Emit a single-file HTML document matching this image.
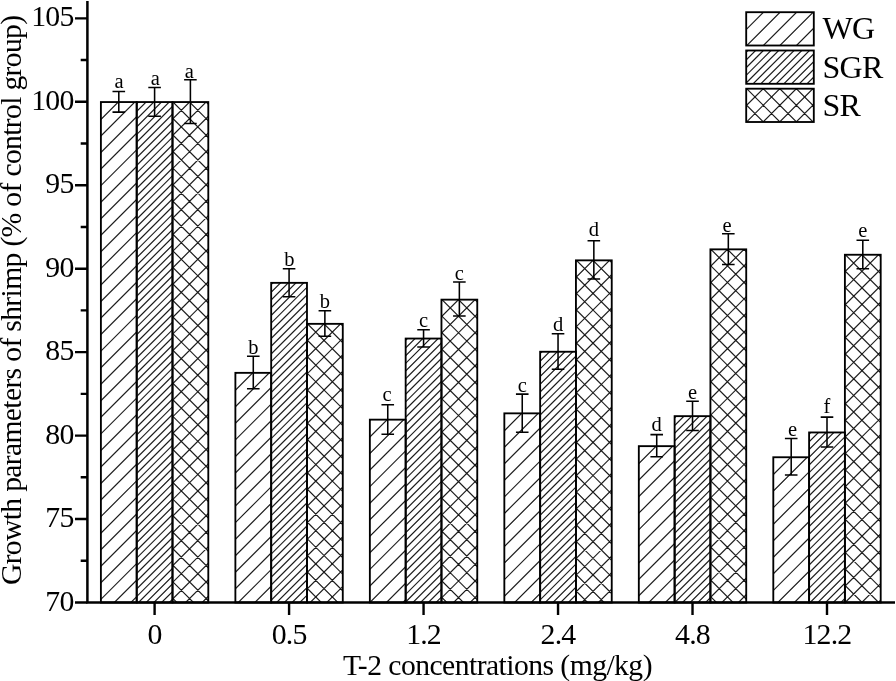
<!DOCTYPE html>
<html><head><meta charset="utf-8"><style>
html,body{margin:0;padding:0;background:#fff;width:896px;height:681px;overflow:hidden}
svg{display:block;will-change:transform}
text{font-family:"Liberation Serif",serif;fill:#000}
</style></head><body>
<svg width="896" height="681" viewBox="0 0 896 681">
<defs><clipPath id="c1"><rect x="100.90" y="102.05" width="35.80" height="500.45"/></clipPath><clipPath id="c2"><rect x="136.70" y="102.05" width="35.80" height="500.45"/></clipPath><clipPath id="c3"><rect x="172.50" y="102.05" width="35.80" height="500.45"/></clipPath><clipPath id="c4"><rect x="235.38" y="372.85" width="35.80" height="229.65"/></clipPath><clipPath id="c5"><rect x="271.18" y="282.85" width="35.80" height="319.65"/></clipPath><clipPath id="c6"><rect x="306.98" y="323.85" width="35.80" height="278.65"/></clipPath><clipPath id="c7"><rect x="369.86" y="419.65" width="35.80" height="182.85"/></clipPath><clipPath id="c8"><rect x="405.66" y="338.55" width="35.80" height="263.95"/></clipPath><clipPath id="c9"><rect x="441.46" y="299.65" width="35.80" height="302.85"/></clipPath><clipPath id="c10"><rect x="504.34" y="413.35" width="35.80" height="189.15"/></clipPath><clipPath id="c11"><rect x="540.14" y="351.75" width="35.80" height="250.75"/></clipPath><clipPath id="c12"><rect x="575.94" y="260.35" width="35.80" height="342.15"/></clipPath><clipPath id="c13"><rect x="638.82" y="446.15" width="35.80" height="156.35"/></clipPath><clipPath id="c14"><rect x="674.62" y="416.15" width="35.80" height="186.35"/></clipPath><clipPath id="c15"><rect x="710.42" y="249.35" width="35.80" height="353.15"/></clipPath><clipPath id="c16"><rect x="773.30" y="457.25" width="35.80" height="145.25"/></clipPath><clipPath id="c17"><rect x="809.10" y="432.45" width="35.80" height="170.05"/></clipPath><clipPath id="c18"><rect x="844.90" y="254.75" width="35.80" height="347.75"/></clipPath><clipPath id="c19"><rect x="746.2" y="12.2" width="67.6" height="33.3"/></clipPath><clipPath id="c20"><rect x="746.2" y="50.5" width="67.6" height="33.3"/></clipPath><clipPath id="c21"><rect x="746.2" y="88.7" width="67.6" height="33.3"/></clipPath></defs>
<rect width="896" height="681" fill="#fff"/>
<path clip-path="url(#c1)" d="M98.90 104.85L103.70 100.05M98.90 121.40L120.25 100.05M98.90 137.95L136.80 100.05M98.90 154.50L138.70 114.70M98.90 171.05L138.70 131.25M98.90 187.60L138.70 147.80M98.90 204.15L138.70 164.35M98.90 220.70L138.70 180.90M98.90 237.25L138.70 197.45M98.90 253.80L138.70 214.00M98.90 270.35L138.70 230.55M98.90 286.90L138.70 247.10M98.90 303.45L138.70 263.65M98.90 320.00L138.70 280.20M98.90 336.55L138.70 296.75M98.90 353.10L138.70 313.30M98.90 369.65L138.70 329.85M98.90 386.20L138.70 346.40M98.90 402.75L138.70 362.95M98.90 419.30L138.70 379.50M98.90 435.85L138.70 396.05M98.90 452.40L138.70 412.60M98.90 468.95L138.70 429.15M98.90 485.50L138.70 445.70M98.90 502.05L138.70 462.25M98.90 518.60L138.70 478.80M98.90 535.15L138.70 495.35M98.90 551.70L138.70 511.90M98.90 568.25L138.70 528.45M98.90 584.80L138.70 545.00M98.90 601.35L138.70 561.55M112.30 604.50L138.70 578.10M128.85 604.50L138.70 594.65" stroke="#1c1c1c" stroke-width="1.2" fill="none"/>
<rect x="100.90" y="102.05" width="35.80" height="500.45" fill="none" stroke="#000" stroke-width="1.85"/>
<path clip-path="url(#c2)" d="M134.70 105.75L140.40 100.05M134.70 113.45L148.10 100.05M134.70 121.15L155.80 100.05M134.70 128.85L163.50 100.05M134.70 136.55L171.20 100.05M134.70 144.25L174.50 104.45M134.70 151.95L174.50 112.15M134.70 159.65L174.50 119.85M134.70 167.35L174.50 127.55M134.70 175.05L174.50 135.25M134.70 182.75L174.50 142.95M134.70 190.45L174.50 150.65M134.70 198.15L174.50 158.35M134.70 205.85L174.50 166.05M134.70 213.55L174.50 173.75M134.70 221.25L174.50 181.45M134.70 228.95L174.50 189.15M134.70 236.65L174.50 196.85M134.70 244.35L174.50 204.55M134.70 252.05L174.50 212.25M134.70 259.75L174.50 219.95M134.70 267.45L174.50 227.65M134.70 275.15L174.50 235.35M134.70 282.85L174.50 243.05M134.70 290.55L174.50 250.75M134.70 298.25L174.50 258.45M134.70 305.95L174.50 266.15M134.70 313.65L174.50 273.85M134.70 321.35L174.50 281.55M134.70 329.05L174.50 289.25M134.70 336.75L174.50 296.95M134.70 344.45L174.50 304.65M134.70 352.15L174.50 312.35M134.70 359.85L174.50 320.05M134.70 367.55L174.50 327.75M134.70 375.25L174.50 335.45M134.70 382.95L174.50 343.15M134.70 390.65L174.50 350.85M134.70 398.35L174.50 358.55M134.70 406.05L174.50 366.25M134.70 413.75L174.50 373.95M134.70 421.45L174.50 381.65M134.70 429.15L174.50 389.35M134.70 436.85L174.50 397.05M134.70 444.55L174.50 404.75M134.70 452.25L174.50 412.45M134.70 459.95L174.50 420.15M134.70 467.65L174.50 427.85M134.70 475.35L174.50 435.55M134.70 483.05L174.50 443.25M134.70 490.75L174.50 450.95M134.70 498.45L174.50 458.65M134.70 506.15L174.50 466.35M134.70 513.85L174.50 474.05M134.70 521.55L174.50 481.75M134.70 529.25L174.50 489.45M134.70 536.95L174.50 497.15M134.70 544.65L174.50 504.85M134.70 552.35L174.50 512.55M134.70 560.05L174.50 520.25M134.70 567.75L174.50 527.95M134.70 575.45L174.50 535.65M134.70 583.15L174.50 543.35M134.70 590.85L174.50 551.05M134.70 598.55L174.50 558.75M136.45 604.50L174.50 566.45M144.15 604.50L174.50 574.15M151.85 604.50L174.50 581.85M159.55 604.50L174.50 589.55M167.25 604.50L174.50 597.25" stroke="#1c1c1c" stroke-width="1.2" fill="none"/>
<rect x="136.70" y="102.05" width="35.80" height="500.45" fill="none" stroke="#000" stroke-width="1.85"/>
<path clip-path="url(#c3)" d="M170.50 104.55L175.00 100.05M170.50 121.10L191.55 100.05M170.50 137.65L208.10 100.05M170.50 154.20L210.30 114.40M170.50 170.75L210.30 130.95M170.50 187.30L210.30 147.50M170.50 203.85L210.30 164.05M170.50 220.40L210.30 180.60M170.50 236.95L210.30 197.15M170.50 253.50L210.30 213.70M170.50 270.05L210.30 230.25M170.50 286.60L210.30 246.80M170.50 303.15L210.30 263.35M170.50 319.70L210.30 279.90M170.50 336.25L210.30 296.45M170.50 352.80L210.30 313.00M170.50 369.35L210.30 329.55M170.50 385.90L210.30 346.10M170.50 402.45L210.30 362.65M170.50 419.00L210.30 379.20M170.50 435.55L210.30 395.75M170.50 452.10L210.30 412.30M170.50 468.65L210.30 428.85M170.50 485.20L210.30 445.40M170.50 501.75L210.30 461.95M170.50 518.30L210.30 478.50M170.50 534.85L210.30 495.05M170.50 551.40L210.30 511.60M170.50 567.95L210.30 528.15M170.50 584.50L210.30 544.70M170.50 601.05L210.30 561.25M183.60 604.50L210.30 577.80M200.15 604.50L210.30 594.35M170.50 596.05L178.95 604.50M170.50 579.50L195.50 604.50M170.50 562.95L210.30 602.75M170.50 546.40L210.30 586.20M170.50 529.85L210.30 569.65M170.50 513.30L210.30 553.10M170.50 496.75L210.30 536.55M170.50 480.20L210.30 520.00M170.50 463.65L210.30 503.45M170.50 447.10L210.30 486.90M170.50 430.55L210.30 470.35M170.50 414.00L210.30 453.80M170.50 397.45L210.30 437.25M170.50 380.90L210.30 420.70M170.50 364.35L210.30 404.15M170.50 347.80L210.30 387.60M170.50 331.25L210.30 371.05M170.50 314.70L210.30 354.50M170.50 298.15L210.30 337.95M170.50 281.60L210.30 321.40M170.50 265.05L210.30 304.85M170.50 248.50L210.30 288.30M170.50 231.95L210.30 271.75M170.50 215.40L210.30 255.20M170.50 198.85L210.30 238.65M170.50 182.30L210.30 222.10M170.50 165.75L210.30 205.55M170.50 149.20L210.30 189.00M170.50 132.65L210.30 172.45M170.50 116.10L210.30 155.90M171.00 100.05L210.30 139.35M187.55 100.05L210.30 122.80M204.10 100.05L210.30 106.25" stroke="#1c1c1c" stroke-width="1.2" fill="none"/>
<rect x="172.50" y="102.05" width="35.80" height="500.45" fill="none" stroke="#000" stroke-width="1.85"/>
<path clip-path="url(#c4)" d="M233.38 375.65L238.18 370.85M233.38 392.20L254.73 370.85M233.38 408.75L271.28 370.85M233.38 425.30L273.18 385.50M233.38 441.85L273.18 402.05M233.38 458.40L273.18 418.60M233.38 474.95L273.18 435.15M233.38 491.50L273.18 451.70M233.38 508.05L273.18 468.25M233.38 524.60L273.18 484.80M233.38 541.15L273.18 501.35M233.38 557.70L273.18 517.90M233.38 574.25L273.18 534.45M233.38 590.80L273.18 551.00M236.23 604.50L273.18 567.55M252.78 604.50L273.18 584.10" stroke="#1c1c1c" stroke-width="1.2" fill="none"/>
<rect x="235.38" y="372.85" width="35.80" height="229.65" fill="none" stroke="#000" stroke-width="1.85"/>
<path clip-path="url(#c5)" d="M269.18 286.55L274.88 280.85M269.18 294.25L282.58 280.85M269.18 301.95L290.28 280.85M269.18 309.65L297.98 280.85M269.18 317.35L305.68 280.85M269.18 325.05L308.98 285.25M269.18 332.75L308.98 292.95M269.18 340.45L308.98 300.65M269.18 348.15L308.98 308.35M269.18 355.85L308.98 316.05M269.18 363.55L308.98 323.75M269.18 371.25L308.98 331.45M269.18 378.95L308.98 339.15M269.18 386.65L308.98 346.85M269.18 394.35L308.98 354.55M269.18 402.05L308.98 362.25M269.18 409.75L308.98 369.95M269.18 417.45L308.98 377.65M269.18 425.15L308.98 385.35M269.18 432.85L308.98 393.05M269.18 440.55L308.98 400.75M269.18 448.25L308.98 408.45M269.18 455.95L308.98 416.15M269.18 463.65L308.98 423.85M269.18 471.35L308.98 431.55M269.18 479.05L308.98 439.25M269.18 486.75L308.98 446.95M269.18 494.45L308.98 454.65M269.18 502.15L308.98 462.35M269.18 509.85L308.98 470.05M269.18 517.55L308.98 477.75M269.18 525.25L308.98 485.45M269.18 532.95L308.98 493.15M269.18 540.65L308.98 500.85M269.18 548.35L308.98 508.55M269.18 556.05L308.98 516.25M269.18 563.75L308.98 523.95M269.18 571.45L308.98 531.65M269.18 579.15L308.98 539.35M269.18 586.85L308.98 547.05M269.18 594.55L308.98 554.75M269.18 602.25L308.98 562.45M274.63 604.50L308.98 570.15M282.33 604.50L308.98 577.85M290.03 604.50L308.98 585.55M297.73 604.50L308.98 593.25" stroke="#1c1c1c" stroke-width="1.2" fill="none"/>
<rect x="271.18" y="282.85" width="35.80" height="319.65" fill="none" stroke="#000" stroke-width="1.85"/>
<path clip-path="url(#c6)" d="M304.98 326.35L309.48 321.85M304.98 342.90L326.03 321.85M304.98 359.45L342.58 321.85M304.98 376.00L344.78 336.20M304.98 392.55L344.78 352.75M304.98 409.10L344.78 369.30M304.98 425.65L344.78 385.85M304.98 442.20L344.78 402.40M304.98 458.75L344.78 418.95M304.98 475.30L344.78 435.50M304.98 491.85L344.78 452.05M304.98 508.40L344.78 468.60M304.98 524.95L344.78 485.15M304.98 541.50L344.78 501.70M304.98 558.05L344.78 518.25M304.98 574.60L344.78 534.80M304.98 591.15L344.78 551.35M308.18 604.50L344.78 567.90M324.73 604.50L344.78 584.45M304.98 602.70L306.78 604.50M304.98 586.15L323.33 604.50M304.98 569.60L339.88 604.50M304.98 553.05L344.78 592.85M304.98 536.50L344.78 576.30M304.98 519.95L344.78 559.75M304.98 503.40L344.78 543.20M304.98 486.85L344.78 526.65M304.98 470.30L344.78 510.10M304.98 453.75L344.78 493.55M304.98 437.20L344.78 477.00M304.98 420.65L344.78 460.45M304.98 404.10L344.78 443.90M304.98 387.55L344.78 427.35M304.98 371.00L344.78 410.80M304.98 354.45L344.78 394.25M304.98 337.90L344.78 377.70M305.48 321.85L344.78 361.15M322.03 321.85L344.78 344.60M338.58 321.85L344.78 328.05" stroke="#1c1c1c" stroke-width="1.2" fill="none"/>
<rect x="306.98" y="323.85" width="35.80" height="278.65" fill="none" stroke="#000" stroke-width="1.85"/>
<path clip-path="url(#c7)" d="M367.86 422.45L372.66 417.65M367.86 439.00L389.21 417.65M367.86 455.55L405.76 417.65M367.86 472.10L407.66 432.30M367.86 488.65L407.66 448.85M367.86 505.20L407.66 465.40M367.86 521.75L407.66 481.95M367.86 538.30L407.66 498.50M367.86 554.85L407.66 515.05M367.86 571.40L407.66 531.60M367.86 587.95L407.66 548.15M367.86 604.50L407.66 564.70M384.41 604.50L407.66 581.25M400.96 604.50L407.66 597.80" stroke="#1c1c1c" stroke-width="1.2" fill="none"/>
<rect x="369.86" y="419.65" width="35.80" height="182.85" fill="none" stroke="#000" stroke-width="1.85"/>
<path clip-path="url(#c8)" d="M403.66 342.25L409.36 336.55M403.66 349.95L417.06 336.55M403.66 357.65L424.76 336.55M403.66 365.35L432.46 336.55M403.66 373.05L440.16 336.55M403.66 380.75L443.46 340.95M403.66 388.45L443.46 348.65M403.66 396.15L443.46 356.35M403.66 403.85L443.46 364.05M403.66 411.55L443.46 371.75M403.66 419.25L443.46 379.45M403.66 426.95L443.46 387.15M403.66 434.65L443.46 394.85M403.66 442.35L443.46 402.55M403.66 450.05L443.46 410.25M403.66 457.75L443.46 417.95M403.66 465.45L443.46 425.65M403.66 473.15L443.46 433.35M403.66 480.85L443.46 441.05M403.66 488.55L443.46 448.75M403.66 496.25L443.46 456.45M403.66 503.95L443.46 464.15M403.66 511.65L443.46 471.85M403.66 519.35L443.46 479.55M403.66 527.05L443.46 487.25M403.66 534.75L443.46 494.95M403.66 542.45L443.46 502.65M403.66 550.15L443.46 510.35M403.66 557.85L443.46 518.05M403.66 565.55L443.46 525.75M403.66 573.25L443.46 533.45M403.66 580.95L443.46 541.15M403.66 588.65L443.46 548.85M403.66 596.35L443.46 556.55M403.66 604.05L443.46 564.25M410.91 604.50L443.46 571.95M418.61 604.50L443.46 579.65M426.31 604.50L443.46 587.35M434.01 604.50L443.46 595.05" stroke="#1c1c1c" stroke-width="1.2" fill="none"/>
<rect x="405.66" y="338.55" width="35.80" height="263.95" fill="none" stroke="#000" stroke-width="1.85"/>
<path clip-path="url(#c9)" d="M439.46 302.15L443.96 297.65M439.46 318.70L460.51 297.65M439.46 335.25L477.06 297.65M439.46 351.80L479.26 312.00M439.46 368.35L479.26 328.55M439.46 384.90L479.26 345.10M439.46 401.45L479.26 361.65M439.46 418.00L479.26 378.20M439.46 434.55L479.26 394.75M439.46 451.10L479.26 411.30M439.46 467.65L479.26 427.85M439.46 484.20L479.26 444.40M439.46 500.75L479.26 460.95M439.46 517.30L479.26 477.50M439.46 533.85L479.26 494.05M439.46 550.40L479.26 510.60M439.46 566.95L479.26 527.15M439.46 583.50L479.26 543.70M439.46 600.05L479.26 560.25M451.56 604.50L479.26 576.80M468.11 604.50L479.26 593.35M439.46 595.05L448.91 604.50M439.46 578.50L465.46 604.50M439.46 561.95L479.26 601.75M439.46 545.40L479.26 585.20M439.46 528.85L479.26 568.65M439.46 512.30L479.26 552.10M439.46 495.75L479.26 535.55M439.46 479.20L479.26 519.00M439.46 462.65L479.26 502.45M439.46 446.10L479.26 485.90M439.46 429.55L479.26 469.35M439.46 413.00L479.26 452.80M439.46 396.45L479.26 436.25M439.46 379.90L479.26 419.70M439.46 363.35L479.26 403.15M439.46 346.80L479.26 386.60M439.46 330.25L479.26 370.05M439.46 313.70L479.26 353.50M439.96 297.65L479.26 336.95M456.51 297.65L479.26 320.40M473.06 297.65L479.26 303.85" stroke="#1c1c1c" stroke-width="1.2" fill="none"/>
<rect x="441.46" y="299.65" width="35.80" height="302.85" fill="none" stroke="#000" stroke-width="1.85"/>
<path clip-path="url(#c10)" d="M502.34 416.15L507.14 411.35M502.34 432.70L523.69 411.35M502.34 449.25L540.24 411.35M502.34 465.80L542.14 426.00M502.34 482.35L542.14 442.55M502.34 498.90L542.14 459.10M502.34 515.45L542.14 475.65M502.34 532.00L542.14 492.20M502.34 548.55L542.14 508.75M502.34 565.10L542.14 525.30M502.34 581.65L542.14 541.85M502.34 598.20L542.14 558.40M512.59 604.50L542.14 574.95M529.14 604.50L542.14 591.50" stroke="#1c1c1c" stroke-width="1.2" fill="none"/>
<rect x="504.34" y="413.35" width="35.80" height="189.15" fill="none" stroke="#000" stroke-width="1.85"/>
<path clip-path="url(#c11)" d="M538.14 355.45L543.84 349.75M538.14 363.15L551.54 349.75M538.14 370.85L559.24 349.75M538.14 378.55L566.94 349.75M538.14 386.25L574.64 349.75M538.14 393.95L577.94 354.15M538.14 401.65L577.94 361.85M538.14 409.35L577.94 369.55M538.14 417.05L577.94 377.25M538.14 424.75L577.94 384.95M538.14 432.45L577.94 392.65M538.14 440.15L577.94 400.35M538.14 447.85L577.94 408.05M538.14 455.55L577.94 415.75M538.14 463.25L577.94 423.45M538.14 470.95L577.94 431.15M538.14 478.65L577.94 438.85M538.14 486.35L577.94 446.55M538.14 494.05L577.94 454.25M538.14 501.75L577.94 461.95M538.14 509.45L577.94 469.65M538.14 517.15L577.94 477.35M538.14 524.85L577.94 485.05M538.14 532.55L577.94 492.75M538.14 540.25L577.94 500.45M538.14 547.95L577.94 508.15M538.14 555.65L577.94 515.85M538.14 563.35L577.94 523.55M538.14 571.05L577.94 531.25M538.14 578.75L577.94 538.95M538.14 586.45L577.94 546.65M538.14 594.15L577.94 554.35M538.14 601.85L577.94 562.05M543.19 604.50L577.94 569.75M550.89 604.50L577.94 577.45M558.59 604.50L577.94 585.15M566.29 604.50L577.94 592.85" stroke="#1c1c1c" stroke-width="1.2" fill="none"/>
<rect x="540.14" y="351.75" width="35.80" height="250.75" fill="none" stroke="#000" stroke-width="1.85"/>
<path clip-path="url(#c12)" d="M573.94 262.85L578.44 258.35M573.94 279.40L594.99 258.35M573.94 295.95L611.54 258.35M573.94 312.50L613.74 272.70M573.94 329.05L613.74 289.25M573.94 345.60L613.74 305.80M573.94 362.15L613.74 322.35M573.94 378.70L613.74 338.90M573.94 395.25L613.74 355.45M573.94 411.80L613.74 372.00M573.94 428.35L613.74 388.55M573.94 444.90L613.74 405.10M573.94 461.45L613.74 421.65M573.94 478.00L613.74 438.20M573.94 494.55L613.74 454.75M573.94 511.10L613.74 471.30M573.94 527.65L613.74 487.85M573.94 544.20L613.74 504.40M573.94 560.75L613.74 520.95M573.94 577.30L613.74 537.50M573.94 593.85L613.74 554.05M579.84 604.50L613.74 570.60M596.39 604.50L613.74 587.15M573.94 588.85L589.59 604.50M573.94 572.30L606.14 604.50M573.94 555.75L613.74 595.55M573.94 539.20L613.74 579.00M573.94 522.65L613.74 562.45M573.94 506.10L613.74 545.90M573.94 489.55L613.74 529.35M573.94 473.00L613.74 512.80M573.94 456.45L613.74 496.25M573.94 439.90L613.74 479.70M573.94 423.35L613.74 463.15M573.94 406.80L613.74 446.60M573.94 390.25L613.74 430.05M573.94 373.70L613.74 413.50M573.94 357.15L613.74 396.95M573.94 340.60L613.74 380.40M573.94 324.05L613.74 363.85M573.94 307.50L613.74 347.30M573.94 290.95L613.74 330.75M573.94 274.40L613.74 314.20M574.44 258.35L613.74 297.65M590.99 258.35L613.74 281.10M607.54 258.35L613.74 264.55" stroke="#1c1c1c" stroke-width="1.2" fill="none"/>
<rect x="575.94" y="260.35" width="35.80" height="342.15" fill="none" stroke="#000" stroke-width="1.85"/>
<path clip-path="url(#c13)" d="M636.82 448.95L641.62 444.15M636.82 465.50L658.17 444.15M636.82 482.05L674.72 444.15M636.82 498.60L676.62 458.80M636.82 515.15L676.62 475.35M636.82 531.70L676.62 491.90M636.82 548.25L676.62 508.45M636.82 564.80L676.62 525.00M636.82 581.35L676.62 541.55M636.82 597.90L676.62 558.10M646.77 604.50L676.62 574.65M663.32 604.50L676.62 591.20" stroke="#1c1c1c" stroke-width="1.2" fill="none"/>
<rect x="638.82" y="446.15" width="35.80" height="156.35" fill="none" stroke="#000" stroke-width="1.85"/>
<path clip-path="url(#c14)" d="M672.62 419.85L678.32 414.15M672.62 427.55L686.02 414.15M672.62 435.25L693.72 414.15M672.62 442.95L701.42 414.15M672.62 450.65L709.12 414.15M672.62 458.35L712.42 418.55M672.62 466.05L712.42 426.25M672.62 473.75L712.42 433.95M672.62 481.45L712.42 441.65M672.62 489.15L712.42 449.35M672.62 496.85L712.42 457.05M672.62 504.55L712.42 464.75M672.62 512.25L712.42 472.45M672.62 519.95L712.42 480.15M672.62 527.65L712.42 487.85M672.62 535.35L712.42 495.55M672.62 543.05L712.42 503.25M672.62 550.75L712.42 510.95M672.62 558.45L712.42 518.65M672.62 566.15L712.42 526.35M672.62 573.85L712.42 534.05M672.62 581.55L712.42 541.75M672.62 589.25L712.42 549.45M672.62 596.95L712.42 557.15M672.77 604.50L712.42 564.85M680.47 604.50L712.42 572.55M688.17 604.50L712.42 580.25M695.87 604.50L712.42 587.95M703.57 604.50L712.42 595.65" stroke="#1c1c1c" stroke-width="1.2" fill="none"/>
<rect x="674.62" y="416.15" width="35.80" height="186.35" fill="none" stroke="#000" stroke-width="1.85"/>
<path clip-path="url(#c15)" d="M708.42 251.85L712.92 247.35M708.42 268.40L729.47 247.35M708.42 284.95L746.02 247.35M708.42 301.50L748.22 261.70M708.42 318.05L748.22 278.25M708.42 334.60L748.22 294.80M708.42 351.15L748.22 311.35M708.42 367.70L748.22 327.90M708.42 384.25L748.22 344.45M708.42 400.80L748.22 361.00M708.42 417.35L748.22 377.55M708.42 433.90L748.22 394.10M708.42 450.45L748.22 410.65M708.42 467.00L748.22 427.20M708.42 483.55L748.22 443.75M708.42 500.10L748.22 460.30M708.42 516.65L748.22 476.85M708.42 533.20L748.22 493.40M708.42 549.75L748.22 509.95M708.42 566.30L748.22 526.50M708.42 582.85L748.22 543.05M708.42 599.40L748.22 559.60M719.87 604.50L748.22 576.15M736.42 604.50L748.22 592.70M708.42 594.40L718.52 604.50M708.42 577.85L735.07 604.50M708.42 561.30L748.22 601.10M708.42 544.75L748.22 584.55M708.42 528.20L748.22 568.00M708.42 511.65L748.22 551.45M708.42 495.10L748.22 534.90M708.42 478.55L748.22 518.35M708.42 462.00L748.22 501.80M708.42 445.45L748.22 485.25M708.42 428.90L748.22 468.70M708.42 412.35L748.22 452.15M708.42 395.80L748.22 435.60M708.42 379.25L748.22 419.05M708.42 362.70L748.22 402.50M708.42 346.15L748.22 385.95M708.42 329.60L748.22 369.40M708.42 313.05L748.22 352.85M708.42 296.50L748.22 336.30M708.42 279.95L748.22 319.75M708.42 263.40L748.22 303.20M708.92 247.35L748.22 286.65M725.47 247.35L748.22 270.10M742.02 247.35L748.22 253.55" stroke="#1c1c1c" stroke-width="1.2" fill="none"/>
<rect x="710.42" y="249.35" width="35.80" height="353.15" fill="none" stroke="#000" stroke-width="1.85"/>
<path clip-path="url(#c16)" d="M771.30 460.05L776.10 455.25M771.30 476.60L792.65 455.25M771.30 493.15L809.20 455.25M771.30 509.70L811.10 469.90M771.30 526.25L811.10 486.45M771.30 542.80L811.10 503.00M771.30 559.35L811.10 519.55M771.30 575.90L811.10 536.10M771.30 592.45L811.10 552.65M775.80 604.50L811.10 569.20M792.35 604.50L811.10 585.75" stroke="#1c1c1c" stroke-width="1.2" fill="none"/>
<rect x="773.30" y="457.25" width="35.80" height="145.25" fill="none" stroke="#000" stroke-width="1.85"/>
<path clip-path="url(#c17)" d="M807.10 436.15L812.80 430.45M807.10 443.85L820.50 430.45M807.10 451.55L828.20 430.45M807.10 459.25L835.90 430.45M807.10 466.95L843.60 430.45M807.10 474.65L846.90 434.85M807.10 482.35L846.90 442.55M807.10 490.05L846.90 450.25M807.10 497.75L846.90 457.95M807.10 505.45L846.90 465.65M807.10 513.15L846.90 473.35M807.10 520.85L846.90 481.05M807.10 528.55L846.90 488.75M807.10 536.25L846.90 496.45M807.10 543.95L846.90 504.15M807.10 551.65L846.90 511.85M807.10 559.35L846.90 519.55M807.10 567.05L846.90 527.25M807.10 574.75L846.90 534.95M807.10 582.45L846.90 542.65M807.10 590.15L846.90 550.35M807.10 597.85L846.90 558.05M808.15 604.50L846.90 565.75M815.85 604.50L846.90 573.45M823.55 604.50L846.90 581.15M831.25 604.50L846.90 588.85M838.95 604.50L846.90 596.55" stroke="#1c1c1c" stroke-width="1.2" fill="none"/>
<rect x="809.10" y="432.45" width="35.80" height="170.05" fill="none" stroke="#000" stroke-width="1.85"/>
<path clip-path="url(#c18)" d="M842.90 257.25L847.40 252.75M842.90 273.80L863.95 252.75M842.90 290.35L880.50 252.75M842.90 306.90L882.70 267.10M842.90 323.45L882.70 283.65M842.90 340.00L882.70 300.20M842.90 356.55L882.70 316.75M842.90 373.10L882.70 333.30M842.90 389.65L882.70 349.85M842.90 406.20L882.70 366.40M842.90 422.75L882.70 382.95M842.90 439.30L882.70 399.50M842.90 455.85L882.70 416.05M842.90 472.40L882.70 432.60M842.90 488.95L882.70 449.15M842.90 505.50L882.70 465.70M842.90 522.05L882.70 482.25M842.90 538.60L882.70 498.80M842.90 555.15L882.70 515.35M842.90 571.70L882.70 531.90M842.90 588.25L882.70 548.45M843.20 604.50L882.70 565.00M859.75 604.50L882.70 581.55M876.30 604.50L882.70 598.10M842.90 599.80L847.60 604.50M842.90 583.25L864.15 604.50M842.90 566.70L880.70 604.50M842.90 550.15L882.70 589.95M842.90 533.60L882.70 573.40M842.90 517.05L882.70 556.85M842.90 500.50L882.70 540.30M842.90 483.95L882.70 523.75M842.90 467.40L882.70 507.20M842.90 450.85L882.70 490.65M842.90 434.30L882.70 474.10M842.90 417.75L882.70 457.55M842.90 401.20L882.70 441.00M842.90 384.65L882.70 424.45M842.90 368.10L882.70 407.90M842.90 351.55L882.70 391.35M842.90 335.00L882.70 374.80M842.90 318.45L882.70 358.25M842.90 301.90L882.70 341.70M842.90 285.35L882.70 325.15M842.90 268.80L882.70 308.60M843.40 252.75L882.70 292.05M859.95 252.75L882.70 275.50M876.50 252.75L882.70 258.95" stroke="#1c1c1c" stroke-width="1.2" fill="none"/>
<rect x="844.90" y="254.75" width="35.80" height="347.75" fill="none" stroke="#000" stroke-width="1.85"/>
<path d="M118.80 91.40V112.10M112.50 91.40H125.10M112.50 112.10H125.10" stroke="#000" stroke-width="1.55" fill="none"/>
<text x="118.95" y="88.10" font-size="20.5" text-anchor="middle">a</text>
<path d="M154.60 87.40V116.20M148.30 87.40H160.90M148.30 116.20H160.90" stroke="#000" stroke-width="1.55" fill="none"/>
<text x="155.20" y="84.80" font-size="20.5" text-anchor="middle">a</text>
<path d="M190.40 79.70V123.50M184.10 79.70H196.70M184.10 123.50H196.70" stroke="#000" stroke-width="1.55" fill="none"/>
<text x="189.30" y="77.50" font-size="20.5" text-anchor="middle">a</text>
<path d="M253.28 356.30V388.80M246.98 356.30H259.58M246.98 388.80H259.58" stroke="#000" stroke-width="1.55" fill="none"/>
<text x="253.28" y="353.50" font-size="20.5" text-anchor="middle">b</text>
<path d="M289.08 268.80V296.80M282.78 268.80H295.38M282.78 296.80H295.38" stroke="#000" stroke-width="1.55" fill="none"/>
<text x="289.33" y="266.00" font-size="20.5" text-anchor="middle">b</text>
<path d="M324.88 310.70V336.30M318.58 310.70H331.18M318.58 336.30H331.18" stroke="#000" stroke-width="1.55" fill="none"/>
<text x="324.88" y="308.20" font-size="20.5" text-anchor="middle">b</text>
<path d="M387.76 404.80V434.20M381.46 404.80H394.06M381.46 434.20H394.06" stroke="#000" stroke-width="1.55" fill="none"/>
<text x="387.06" y="400.70" font-size="20.5" text-anchor="middle">c</text>
<path d="M423.56 329.70V347.00M417.26 329.70H429.86M417.26 347.00H429.86" stroke="#000" stroke-width="1.55" fill="none"/>
<text x="423.56" y="327.20" font-size="20.5" text-anchor="middle">c</text>
<path d="M459.36 282.00V316.00M453.06 282.00H465.66M453.06 316.00H465.66" stroke="#000" stroke-width="1.55" fill="none"/>
<text x="459.36" y="279.60" font-size="20.5" text-anchor="middle">c</text>
<path d="M522.24 394.10V432.30M515.94 394.10H528.54M515.94 432.30H528.54" stroke="#000" stroke-width="1.55" fill="none"/>
<text x="522.24" y="391.60" font-size="20.5" text-anchor="middle">c</text>
<path d="M558.04 333.80V369.30M551.74 333.80H564.34M551.74 369.30H564.34" stroke="#000" stroke-width="1.55" fill="none"/>
<text x="558.04" y="330.80" font-size="20.5" text-anchor="middle">d</text>
<path d="M593.84 240.70V279.00M587.54 240.70H600.14M587.54 279.00H600.14" stroke="#000" stroke-width="1.55" fill="none"/>
<text x="593.84" y="236.20" font-size="20.5" text-anchor="middle">d</text>
<path d="M656.72 434.60V456.80M650.42 434.60H663.02M650.42 456.80H663.02" stroke="#000" stroke-width="1.55" fill="none"/>
<text x="656.72" y="431.00" font-size="20.5" text-anchor="middle">d</text>
<path d="M692.52 401.20V430.50M686.22 401.20H698.82M686.22 430.50H698.82" stroke="#000" stroke-width="1.55" fill="none"/>
<text x="692.52" y="399.30" font-size="20.5" text-anchor="middle">e</text>
<path d="M728.32 233.80V264.50M722.02 233.80H734.62M722.02 264.50H734.62" stroke="#000" stroke-width="1.55" fill="none"/>
<text x="727.12" y="232.30" font-size="20.5" text-anchor="middle">e</text>
<path d="M791.20 438.50V475.00M784.90 438.50H797.50M784.90 475.00H797.50" stroke="#000" stroke-width="1.55" fill="none"/>
<text x="792.60" y="435.60" font-size="20.5" text-anchor="middle">e</text>
<path d="M827.00 417.10V447.00M820.70 417.10H833.30M820.70 447.00H833.30" stroke="#000" stroke-width="1.55" fill="none"/>
<text x="827.00" y="413.00" font-size="20.5" text-anchor="middle">f</text>
<path d="M862.80 240.20V268.80M856.50 240.20H869.10M856.50 268.80H869.10" stroke="#000" stroke-width="1.55" fill="none"/>
<text x="862.80" y="237.20" font-size="20.5" text-anchor="middle">e</text>
<path d="M87.4 1V603.7M86.2 602.5H895" stroke="#000" stroke-width="2.5" fill="none"/>
<text x="73.5" y="610.50" font-size="29.8" text-anchor="end" letter-spacing="-0.8">70</text>
<text x="73.5" y="527.05" font-size="29.8" text-anchor="end" letter-spacing="-0.8">75</text>
<text x="73.5" y="443.60" font-size="29.8" text-anchor="end" letter-spacing="-0.8">80</text>
<text x="73.5" y="360.15" font-size="29.8" text-anchor="end" letter-spacing="-0.8">85</text>
<text x="73.5" y="276.70" font-size="29.8" text-anchor="end" letter-spacing="-0.8">90</text>
<text x="73.5" y="193.25" font-size="29.8" text-anchor="end" letter-spacing="-0.8">95</text>
<text x="73.5" y="109.80" font-size="29.8" text-anchor="end" letter-spacing="-0.8">100</text>
<text x="73.5" y="26.35" font-size="29.8" text-anchor="end" letter-spacing="-0.8">105</text>
<path d="M75 602.50H87.4M75 519.05H87.4M75 435.60H87.4M75 352.15H87.4M75 268.70H87.4M75 185.25H87.4M75 101.80H87.4M75 18.35H87.4M80.7 560.77H87.4M80.7 477.32H87.4M80.7 393.88H87.4M80.7 310.42H87.4M80.7 226.97H87.4M80.7 143.52H87.4M80.7 60.07H87.4M154.60 602.5V615M289.08 602.5V615M423.56 602.5V615M558.04 602.5V615M692.52 602.5V615M827.00 602.5V615" stroke="#000" stroke-width="2.4" fill="none"/>
<text x="154.60" y="644" font-size="29.8" text-anchor="middle" letter-spacing="-0.8">0</text>
<text x="289.08" y="644" font-size="29.8" text-anchor="middle" letter-spacing="-0.8">0.5</text>
<text x="423.56" y="644" font-size="29.8" text-anchor="middle" letter-spacing="-0.8">1.2</text>
<text x="558.04" y="644" font-size="29.8" text-anchor="middle" letter-spacing="-0.8">2.4</text>
<text x="692.52" y="644" font-size="29.8" text-anchor="middle" letter-spacing="-0.8">4.8</text>
<text x="827.00" y="644" font-size="29.8" text-anchor="middle" letter-spacing="-0.8">12.2</text>
<text x="497.5" y="674.5" font-size="29.6" text-anchor="middle" letter-spacing="-0.53">T-2 concentrations (mg/kg)</text>
<text transform="translate(21 300.3) rotate(-90)" x="0" y="0" font-size="29.6" text-anchor="middle" letter-spacing="-0.65">Growth parameters of shrimp (% of control group)</text>
<path clip-path="url(#c19)" d="M744.20 15.00L749.00 10.20M744.20 31.55L765.55 10.20M744.80 47.50L782.10 10.20M761.35 47.50L798.65 10.20M777.90 47.50L815.20 10.20M794.45 47.50L815.80 26.15M811.00 47.50L815.80 42.70" stroke="#1c1c1c" stroke-width="1.2" fill="none"/>
<rect x="746.2" y="12.2" width="67.6" height="33.3" fill="none" stroke="#000" stroke-width="1.85"/>
<text x="822.6" y="39.40" font-size="32" letter-spacing="-0.8">WG</text>
<path clip-path="url(#c20)" d="M744.20 54.20L749.90 48.50M744.20 61.90L757.60 48.50M744.20 69.60L765.30 48.50M744.20 77.30L773.00 48.50M744.20 85.00L780.70 48.50M751.10 85.80L788.40 48.50M758.80 85.80L796.10 48.50M766.50 85.80L803.80 48.50M774.20 85.80L811.50 48.50M781.90 85.80L815.80 51.90M789.60 85.80L815.80 59.60M797.30 85.80L815.80 67.30M805.00 85.80L815.80 75.00" stroke="#1c1c1c" stroke-width="1.2" fill="none"/>
<rect x="746.2" y="50.5" width="67.6" height="33.3" fill="none" stroke="#000" stroke-width="1.85"/>
<text x="822.6" y="77.70" font-size="32" letter-spacing="-0.8">SGR</text>
<path clip-path="url(#c21)" d="M744.20 91.20L748.70 86.70M744.20 107.75L765.25 86.70M744.50 124.00L781.80 86.70M761.05 124.00L798.35 86.70M777.60 124.00L814.90 86.70M794.15 124.00L815.80 102.35M810.70 124.00L815.80 118.90M744.20 119.30L748.90 124.00M744.20 102.75L765.45 124.00M744.70 86.70L782.00 124.00M761.25 86.70L798.55 124.00M777.80 86.70L815.10 124.00M794.35 86.70L815.80 108.15M810.90 86.70L815.80 91.60" stroke="#1c1c1c" stroke-width="1.2" fill="none"/>
<rect x="746.2" y="88.7" width="67.6" height="33.3" fill="none" stroke="#000" stroke-width="1.85"/>
<text x="822.6" y="115.90" font-size="32" letter-spacing="-0.8">SR</text>
</svg>
</body></html>
